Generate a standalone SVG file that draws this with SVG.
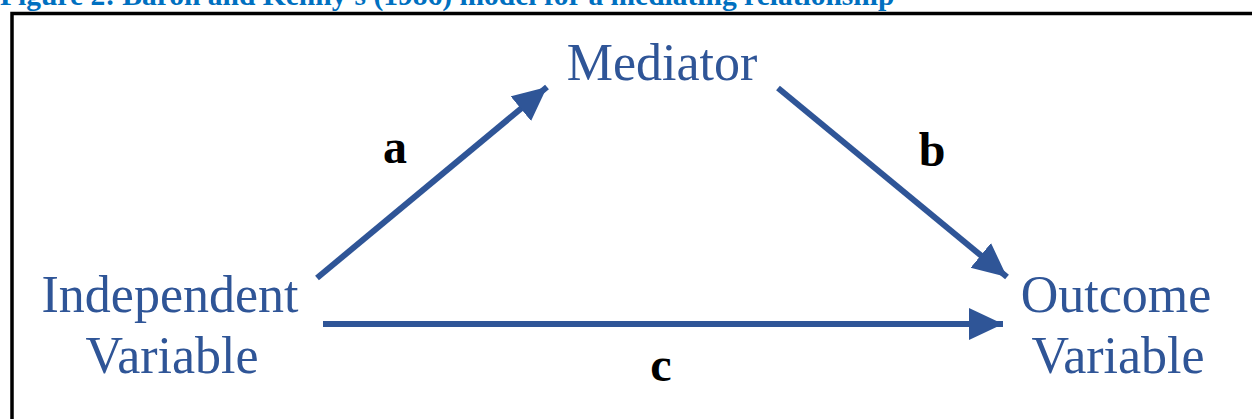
<svg xmlns="http://www.w3.org/2000/svg" width="1252" height="419" viewBox="0 0 1252 419">
<style>
.node{font-family:"Liberation Serif","Times New Roman",serif;font-size:52px;fill:#2F5597;text-anchor:middle}
.lbl{font-family:"Liberation Serif","Times New Roman",serif;font-size:48px;font-weight:bold;fill:#000;text-anchor:middle}
.title{font-family:"Liberation Serif","Times New Roman",serif;font-size:29.5px;font-weight:bold;fill:#0070C0}
.conn{stroke:#2F5597;stroke-width:6;fill:none;marker-end:url(#ah)}
</style>
<defs>
<marker id="ah" markerUnits="userSpaceOnUse" markerWidth="40" markerHeight="40" refX="34" refY="16" orient="auto">
<path d="M0,0 L34,16 L0,32 Z" fill="#2F5597"/>
</marker>
</defs>
<rect width="1252" height="419" fill="#fff"/>
<text class="title" x="0" y="5">Figure 2: Baron and Kenny's (1986) model for a mediating relationship</text>
<rect x="12" y="13.5" width="1300" height="500" fill="none" stroke="#000" stroke-width="3.5"/>
<g id="connectors">
<line class="conn" x1="317" y1="278" x2="547" y2="87"/>
<line class="conn" x1="778" y1="88" x2="1007" y2="277"/>
<line class="conn" x1="323" y1="324" x2="1003" y2="324"/>
</g>
<g id="mediator"><text class="node" x="662" y="80">Mediator</text></g>
<g id="independent"><text class="node" x="170" y="312">Independent</text><text class="node" x="172" y="373">Variable</text></g>
<g id="outcome"><text class="node" x="1116" y="312">Outcome</text><text class="node" x="1118" y="373">Variable</text></g>
<g id="labels">
<text class="lbl" x="395" y="163">a</text>
<text class="lbl" x="932" y="166">b</text>
<text class="lbl" x="661" y="381">c</text>
</g>
</svg>
